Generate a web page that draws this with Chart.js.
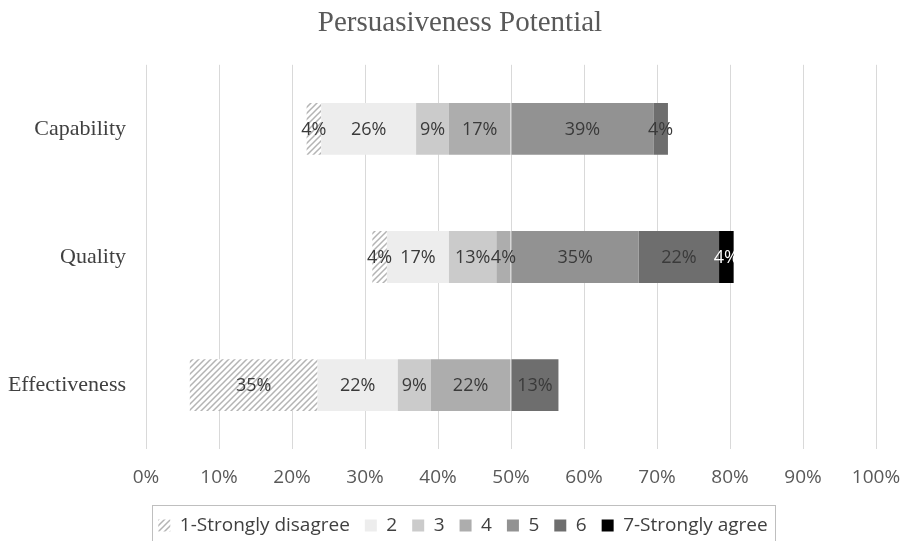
<!DOCTYPE html>
<html>
<head>
<meta charset="utf-8">
<script src="https://cdn.jsdelivr.net/npm/chart.js@4/dist/chart.umd.min.js"></script>
<style>
  html, body { margin: 0; padding: 0; background: #fff; }
  #wrap { width: 901px; height: 541px; }
</style>
</head>
<body>
<div id="wrap"><canvas id="c" width="901" height="541"></canvas></div>
<script>
// categories (top to bottom)
const categories = ["Capability", "Quality", "Effectiveness"];
// answer levels, legend order
const levels = ["1-Strongly disagree", "2", "3", "4", "5", "6", "7-Strongly agree"];
// share of answers per level, in %
const capability    = [4, 26, 9, 17, 39, 4, 0];
const quality       = [4, 17, 13, 4, 35, 22, 4];
const effectiveness = [35, 22, 9, 22, 0, 13, 0];
// axis labels, left to right
const tickLabels = ["0%", "10%", "20%", "30%", "40%", "50%", "60%", "70%", "80%", "90%", "100%"];

const canvas = document.getElementById("c");
const ctx = canvas.getContext("2d");

// diagonal hatch for level 1
function hatch() {
  const p = document.createElement("canvas");
  p.width = 6; p.height = 6;
  const g = p.getContext("2d");
  g.fillStyle = "#ffffff";
  g.fillRect(0, 0, 6, 6);
  g.strokeStyle = "#b4b4b4";
  g.lineWidth = 1.5;
  g.beginPath();
  g.moveTo(-1, 7); g.lineTo(7, -1);
  g.moveTo(-4, 4); g.lineTo(4, -4);
  g.moveTo(2, 10); g.lineTo(10, 2);
  g.stroke();
  return ctx.createPattern(p, "repeat");
}

const fills = [hatch(), "#ededed", "#cbcbcb", "#adadad", "#929292", "#6e6e6e", "#000000"];

// levels 1-4 go left of the centre line, 5-7 to the right
const stackOrder = [3, 2, 1, 0, 4, 5, 6];
const datasets = stackOrder.map(i => {
  const sign = i < 4 ? -1 : 1;
  return {
    label: levels[i],
    level: i,
    data: [capability[i], quality[i], effectiveness[i]].map(v => sign * v),
    backgroundColor: fills[i],
    borderWidth: 0,
    barPercentage: 0.405,
    categoryPercentage: 1
  };
});

// value labels in the middle of each segment
const segLabels = {
  id: "segLabels",
  afterDatasetsDraw(chart) {
    const c = chart.ctx;
    c.save();
    c.font = "18px 'Open Sans'";
    c.textAlign = "center";
    c.textBaseline = "middle";
    chart.data.datasets.forEach((ds, di) => {
      const meta = chart.getDatasetMeta(di);
      meta.data.forEach((bar, k) => {
        const v = ds.data[k];
        if (!v) return;
        c.fillStyle = ds.level === 6 ? "#ffffff" : "#3a3a3a";
        c.fillText(Math.abs(v) + "%", (bar.x + bar.base) / 2, bar.y + 1);
      });
    });
    c.restore();
  }
};

// title and legend sit centred over the plot, not the whole canvas
const shiftBoxes = {
  id: "shiftBoxes",
  afterUpdate(chart) {
    const t = chart.titleBlock;
    if (t) { t.left += 22; t.right += 22; }
    const lg = chart.legend;
    if (lg) {
      lg.left += 25; lg.right += 25;
      lg.legendHitBoxes.forEach(h => { h.left += 25; });
    }
  }
};

// thin frame round the legend
const legendFrame = {
  id: "legendFrame",
  afterDraw(chart) {
    const lg = chart.legend;
    if (!lg || !lg.legendHitBoxes.length) return;
    const boxes = lg.legendHitBoxes;
    const left = Math.min(...boxes.map(b => b.left)) - 6;
    const right = Math.max(...boxes.map(b => b.left + b.width)) + 8;
    const top = Math.min(...boxes.map(b => b.top)) - 11;
    const c = chart.ctx;
    c.save();
    c.strokeStyle = "#bfbfbf";
    c.lineWidth = 1;
    c.strokeRect(Math.round(left) + 0.5, Math.round(top) + 0.5, Math.round(right - left), 60);
    c.restore();
  }
};

new Chart(canvas, {
  type: "bar",
  data: { labels: categories, datasets },
  plugins: [segLabels, shiftBoxes, legendFrame],
  options: {
    indexAxis: "y",
    responsive: false,
    animation: false,
    layout: { padding: { left: 0, right: 25, top: 6, bottom: -4 } },
    scales: {
      x: {
        stacked: true,
        min: -100,
        max: 100,
        afterFit: (s) => { s.paddingRight = 0; s.height -= 5; },
        ticks: {
          stepSize: 20,
          color: "#595959",
          font: { family: "'Open Sans'", size: 19 },
          padding: 17,
          callback: (v) => tickLabels[Math.round((v + 100) / 20)]
        },
        grid: { color: "#d9d9d9", lineWidth: 1, drawTicks: false },
        border: { display: false }
      },
      y: {
        stacked: true,
        afterFit: (s) => { s.width = 146; },
        ticks: {
          color: "#404040",
          font: { family: "'Liberation Serif'", size: 22 },
          padding: 20
        },
        grid: { display: false, drawTicks: false },
        border: { display: false }
      }
    },
    plugins: {
      title: {
        display: true,
        text: "Persuasiveness Potential",
        color: "#595959",
        font: { family: "'Liberation Serif'", size: 29, weight: "normal" },
        padding: { top: 0, bottom: 24 }
      },
      legend: {
        position: "bottom",
        labels: {
          color: "#404040",
          font: { family: "'Open Sans'", size: 19 },
          boxWidth: 12,
          boxHeight: 12,
          padding: 15,
          sort: (a, b) => a.text.localeCompare(b.text)
        }
      },
      tooltip: { enabled: false }
    }
  }
});
</script>
</body>
</html>
